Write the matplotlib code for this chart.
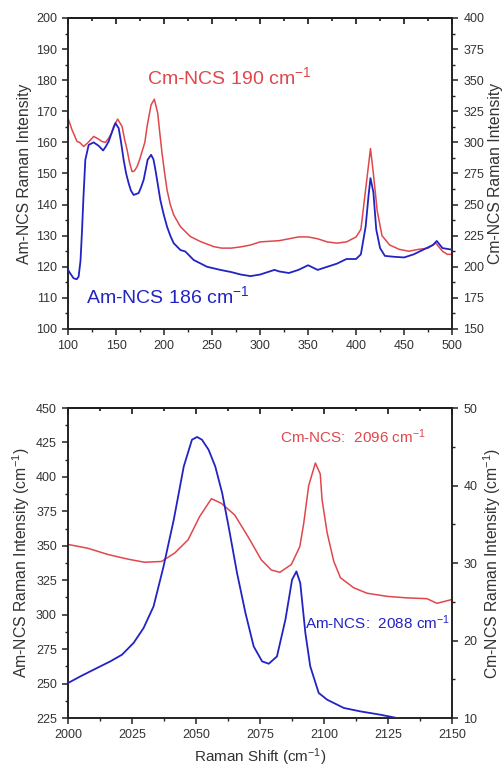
import numpy as np
import matplotlib.pyplot as plt
from matplotlib.ticker import MultipleLocator

plt.rcParams['font.family'] = ['Liberation Sans', 'DejaVu Sans']
plt.rcParams['mathtext.fontset'] = 'custom'
plt.rcParams['mathtext.rm'] = 'Liberation Sans'
plt.rcParams['mathtext.it'] = 'Liberation Sans:italic'

BLUE = '#2323c4'
RED = '#e0474c'

# top panel: low-frequency region
am_low_x = [99, 102, 105.8, 109, 111, 113, 114.6, 116, 118, 121.5, 126.7, 131.9, 136.5, 139,
            142.3, 146, 149.3, 152.7, 155, 157.9, 160.5, 163.1, 165.5, 168.3, 173.5, 176, 178.8,
            182.9, 186.5, 189, 191, 193.5, 196.1, 199.5, 203.1, 206.5, 210, 217, 222.2, 230.8,
            244.8, 258.6, 270, 280, 290, 300, 310, 315, 320, 330, 340, 350, 360, 370, 380,
            390, 400, 405, 410, 413, 415, 418, 421, 425, 430, 440, 450, 460, 470, 480, 484,
            490, 500]
am_low_y = [119.5, 118, 116.3, 116, 116.8, 122, 131.9, 142, 154.4, 159.2, 160, 158.9, 157.4, 158.5,
            160.3, 163.5, 166.2, 164.6, 160.5, 154.4, 150, 146.9, 144.5, 143.1, 143.7, 145.5, 148,
            154.4, 156, 154.5, 151.2, 146.5, 141.5, 137, 132.9, 130, 127.6, 125.4, 124.9, 122.2,
            120, 119, 118.3, 117.5, 117, 117.5, 118.5, 119, 118.5, 118, 119, 120.5, 119, 120, 121,
            122.5, 122.5, 124, 133, 143, 148.5, 144, 132, 126, 123.5, 123.2, 123, 124, 125.5, 127, 128.3,
            126, 125.5]

cm_low_x = [99, 101.5, 104.2, 107, 109.4, 112, 116.3, 121, 126.7, 131, 135.4, 139, 142.3, 145,
            147.5, 151.7, 156.3, 159, 161.5, 164, 166.7, 169, 171.9, 174.5, 177.1, 180, 182.3,
            184.5, 186.5, 189.9, 193.4, 195.5, 197.9, 200.5, 203.1, 206.5, 210, 217, 227.4, 237.8,
            251.7, 260, 270, 280, 290, 300, 320, 340, 350, 360, 370, 380, 390, 400, 405, 410, 415,
            418, 422, 427, 435, 445, 455, 465, 475, 483, 490, 495, 500]
cm_low_y = [322, 316, 310, 305, 300.7, 300, 296.7, 300, 304.8, 303, 300.7, 300, 303.4, 307,
            312.7, 318.7, 312.7, 302, 294, 284, 276.5, 277, 280.5, 286, 292.7, 300, 312.7,
            322, 330.2, 334.7, 323.5, 308, 291.3, 276, 261.8, 250, 241.8, 232.3, 224.3, 220.3,
            216.2, 215, 215, 216, 217.5, 220, 221, 224, 224, 222.5, 220, 219, 220, 224, 230, 262.5, 295,
            275, 245, 225, 217.5, 214, 212.5, 214, 215, 219, 212.5, 210, 210]

# bottom panel: NCS stretch region
am_high_x = [2000, 2004.8, 2011.3, 2016.5, 2021.1, 2025.6, 2029.5, 2033.4, 2037.3, 2041.3, 2045.2,
             2048.4, 2050.4, 2052.3, 2054.9, 2057.5, 2060.2, 2062.7, 2066, 2069.3, 2072.5, 2075.8,
             2078.4, 2081.6, 2084.9, 2087.5, 2089.2, 2090.7, 2092.7, 2094.6, 2097.9, 2101.2,
             2107.7, 2114.2, 2122, 2128.5, 2131]
am_high_y = [250.4, 255.2, 261.3, 266.1, 271, 279.5, 290.3, 306, 335, 369, 407.6,
             427, 429, 427, 419.7, 407.6, 388.3, 364.1, 330.3, 301.2, 277, 266.1,
             264.4, 269.7, 296.4, 325.4, 331.4, 323, 286.7, 262.5, 243.2, 238.3,
             232.3, 229.8, 227.4, 225, 224]

cm_high_x = [2000, 2007.8, 2015.6, 2023.4, 2029.9, 2036.5, 2041.7, 2046.9, 2051.4, 2056, 2059.9,
             2065.1, 2070.3, 2075.5, 2079.4, 2082.7, 2087.2, 2090.5, 2092, 2094, 2096.6, 2098.5,
             2099.2, 2101.2, 2103.8, 2106.4, 2111.6, 2116.8, 2124.6, 2132.4, 2140.2, 2144.1, 2150]
cm_high_y = [32.4, 31.9, 31.1, 30.5, 30.1, 30.2, 31.3, 33.0, 36.0, 38.3, 37.7,
             36.2, 33.4, 30.4, 29.1, 28.8, 29.8, 32.1, 35.0, 40.0, 42.9, 41.5,
             38.2, 33.9, 30.2, 28.1, 26.8, 26.1, 25.7, 25.5, 25.4, 24.8, 25.3]

fig = plt.figure(figsize=(5.04, 7.69), dpi=100)
ax1 = fig.add_axes([0.135, 0.5722, 0.762, 0.4044])
ax2 = fig.add_axes([0.135, 0.0663, 0.762, 0.4031])


def style(ax, axr, xmaj, ymaj, rmaj):
    for a in (ax, axr):
        for s in a.spines.values():
            s.set_linewidth(1.2)
            s.set_color('#222222')
    ax.xaxis.set_major_locator(MultipleLocator(xmaj))
    ax.xaxis.set_minor_locator(MultipleLocator(xmaj / 2))
    ax.yaxis.set_major_locator(MultipleLocator(ymaj))
    ax.yaxis.set_minor_locator(MultipleLocator(ymaj / 2))
    axr.yaxis.set_major_locator(MultipleLocator(rmaj))
    axr.yaxis.set_minor_locator(MultipleLocator(rmaj / 2))
    for a in (ax, axr):
        a.tick_params(which='major', length=4.5, width=1.1, labelsize=9, colors='#222222',
                      labelcolor='#333333')
        a.tick_params(which='minor', length=2.5, width=1.0, colors='#222222')
    top = ax.secondary_xaxis('top')
    top.xaxis.set_major_locator(MultipleLocator(xmaj))
    top.xaxis.set_minor_locator(MultipleLocator(xmaj / 2))
    top.tick_params(which='both', direction='in', labeltop=False, width=1.1)
    top.tick_params(which='major', length=4.5)
    top.tick_params(which='minor', length=2.5)
    top.spines['top'].set_linewidth(1.2)


# top panel
ax1r = ax1.twinx()
ax1.plot(am_low_x, am_low_y, color=BLUE, lw=1.3, zorder=3)
ax1r.plot(cm_low_x, cm_low_y, color=RED, lw=1.1)
ax1.set_zorder(ax1r.get_zorder() + 1)
ax1.patch.set_visible(False)
ax1.set_xlim(100, 500)
ax1.set_ylim(100, 200)
ax1r.set_ylim(150, 400)
style(ax1, ax1r, 50, 10, 25)
ax1.set_ylabel('Am-NCS Raman Intensity', fontsize=11.3, color='#333333', labelpad=3)
ax1r.set_ylabel('Cm-NCS Raman Intensity', fontsize=11.3, color='#333333', labelpad=3)
ax1.text(182, 181, 'Cm-NCS 190 cm$^{-1}$', color=RED, fontsize=14, va='center')
ax1.text(119, 110.4, 'Am-NCS 186 cm$^{-1}$', color=BLUE, fontsize=14, va='center')

# bottom panel
ax2r = ax2.twinx()
ax2.plot(am_high_x, am_high_y, color=BLUE, lw=1.3, zorder=3)
ax2r.plot(cm_high_x, cm_high_y, color=RED, lw=1.1)
ax2.set_zorder(ax2r.get_zorder() + 1)
ax2.patch.set_visible(False)
ax2.set_xlim(2000, 2150)
ax2.set_ylim(225, 450)
ax2r.set_ylim(10, 50)
style(ax2, ax2r, 25, 25, 10)
ax2r.yaxis.set_minor_locator(MultipleLocator(5))
ax2.set_xlabel('Raman Shift (cm$^{-1}$)', fontsize=11, color='#333333')
ax2.set_ylabel('Am-NCS Raman Intensity (cm$^{-1}$)', fontsize=11.3, color='#333333', labelpad=3)
ax2r.set_ylabel('Cm-NCS Raman Intensity (cm$^{-1}$)', fontsize=11.3, color='#333333', labelpad=3)
ax2.text(2082.7, 429.4, 'Cm-NCS:  2096 cm$^{-1}$', color=RED, fontsize=11, va='center')
ax2.text(2092.7, 294.4, 'Am-NCS:  2088 cm$^{-1}$', color=BLUE, fontsize=11, va='center',
         clip_on=False)

fig.savefig('out.png', dpi=100)
